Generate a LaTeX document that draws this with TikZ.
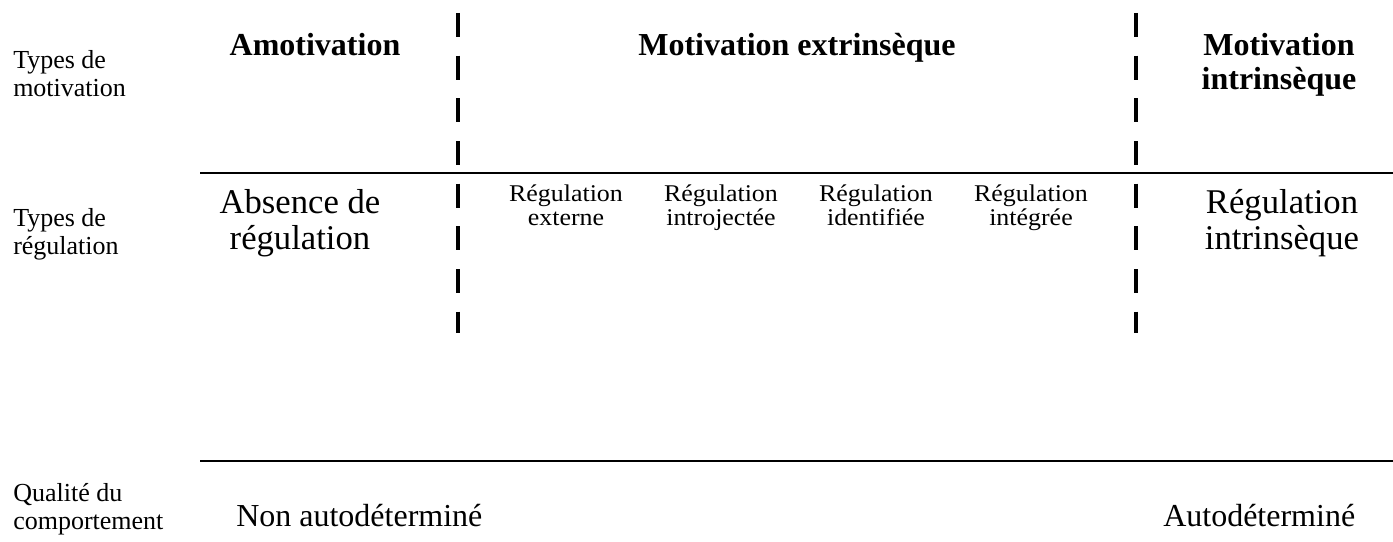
\documentclass[tikz,border=0pt]{standalone}
\usepackage{fontspec}
\setmainfont{Liberation Serif}
\newfontfamily\regfont[FakeStretch=1.08]{Liberation Serif}
\usetikzlibrary{positioning}

\begin{document}
\begin{tikzpicture}[x=0.75pt, y=-0.75pt,
    rowlabel/.style={anchor=north west, align=left, inner sep=0pt, font=\fontsize{19.5}{21}\selectfont},
    header/.style={anchor=north, align=center, inner sep=0pt, font=\fontsize{24}{25.5}\selectfont\bfseries},
    bigtext/.style={anchor=north, align=center, inner sep=0pt, font=\fontsize{26}{27}\selectfont},
    regtext/.style={anchor=north, align=center, inner sep=0pt, font=\regfont\fontsize{18}{18}\selectfont},
    endtext/.style={inner sep=0pt, font=\fontsize{24}{26}\selectfont},
    rule/.style={line width=1.8pt},
    divider/.style={line width=3pt, dash pattern=on 18pt off 14pt}]

    \useasboundingbox (0,0) rectangle (1393,542);

    % =========================================================================
    % Row labels
    % =========================================================================
    \node[rowlabel] (labmot) at (13, 50)  {Types de\\motivation};
    \node[rowlabel] (labreg) at (13, 208) {Types de\\régulation};
    \node[rowlabel] (labqual) at (13, 483) {Qualité du\\comportement};

    % =========================================================================
    % Types of motivation
    % =========================================================================
    \node[header] (amot) at (315, 33)  {Amotivation};
    \node[header] (extr) at (797, 33)  {Motivation extrinsèque};
    \node[header] (intr) at (1279, 33) {Motivation\\intrinsèque};

    % =========================================================================
    % Types of regulation
    % =========================================================================
    \node[bigtext] (noreg) at (300, 189)  {Absence de\\régulation};
    \node[bigtext] (intreg) at (1282, 189) {Régulation\\intrinsèque};
    \foreach \cx/\name/\txt in {566/rext/externe, 721/rintro/introjectée, 876/rident/identifiée, 1031/rinteg/intégrée} {
        \node[regtext] (\name) at (\cx, 185) {Régulation\\\txt};
    }

    % =========================================================================
    % Quality of behaviour
    % =========================================================================
    \node[endtext, anchor=base west] (nonauto) at (236, 526)  {Non autodéterminé};
    \node[endtext, anchor=base west] (auto) at (1163, 526) {Autodéterminé};

    % Rules and dashed dividers
    \draw[rule] (200, 173) -- (1393, 173);
    \draw[rule] (200, 461) -- (1393, 461);
    \draw[divider] (458, 13) -- (458, 333);
    \draw[divider] (1136, 13) -- (1136, 333);

\end{tikzpicture}
\end{document}
